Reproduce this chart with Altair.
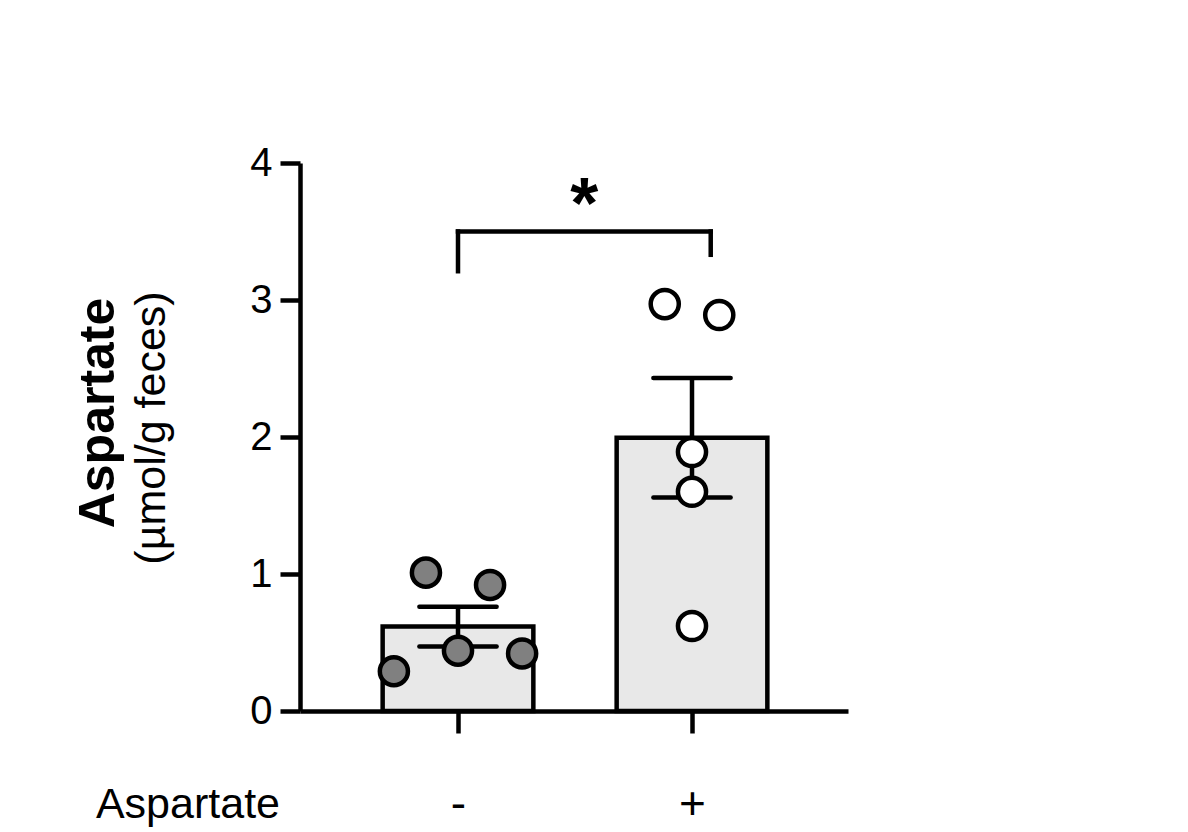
import altair as alt
import numpy as np
import pandas as pd

# Groups along the x axis
groups = ["-", "+"]

# Individual measurements (µmol/g feces) and their horizontal spread slots
minus_vals = [0.29, 1.01, 0.44, 0.92, 0.42]
minus_slot = [-2, -1, 0, 1, 2]
plus_vals = [2.97, 2.89, 1.89, 1.60, 0.62]
plus_slot = [-0.85, 0.85, 0, 0, 0]

# Significance bracket (x in group units, y in data units)
bracket_x = [0.0, 1.08]
bracket_top = 3.5
bracket_feet = [3.21, 3.33]
sig_label = "*"

y_ticks = [0, 1, 2, 3, 4]

# ---- layout / style constants ----
W, H = 548, 548
SLOT = 0.137        # spread between neighbouring dots, group units
HALF_BAR = 0.322    # bar half-width, group units
HALF_CAP = 0.165    # error-bar cap half-width
LW = 4.5
FONT = "Liberation Sans"

# ---- tables ----
pts = pd.DataFrame({
    "group": ["-"] * len(minus_vals) + ["+"] * len(plus_vals),
    "value": minus_vals + plus_vals,
    "slot": minus_slot + plus_slot,
})
pts["gi"] = pts["group"].map({g: i for i, g in enumerate(groups)})
pts["pos"] = pts["gi"] + pts["slot"] * SLOT

summ = pts.groupby("gi")["value"].agg(["mean", "std", "count"]).reset_index()
summ["sem"] = summ["std"] / np.sqrt(summ["count"])
summ["lo"] = summ["mean"] - summ["sem"]
summ["hi"] = summ["mean"] + summ["sem"]
summ["left"] = summ["gi"] - HALF_BAR
summ["right"] = summ["gi"] + HALF_BAR

caps = pd.concat([
    summ.assign(yc=summ["lo"]),
    summ.assign(yc=summ["hi"]),
])
caps["cl"] = caps["gi"] - HALF_CAP
caps["cr"] = caps["gi"] + HALF_CAP

bracket = pd.DataFrame({
    "x": [bracket_x[0], bracket_x[0], bracket_x[1]],
    "x2": [bracket_x[1], bracket_x[0], bracket_x[1]],
    "y": [bracket_top, bracket_top, bracket_top],
    "y2": [bracket_top, bracket_feet[0], bracket_feet[1]],
})
sig = pd.DataFrame({"x": [sum(bracket_x) / 2], "y": [bracket_top], "t": [sig_label]})

# ---- scales and axes ----
step = 234.0
d0 = -158.0 / step
xscale = alt.Scale(domain=[d0, d0 + W / step], nice=False, zero=False)
yscale = alt.Scale(domain=[0, 4], nice=False)

xaxis = alt.Axis(
    values=list(range(len(groups))),
    labelExpr="datum.value == 0 ? '-' : '+'",
    title=None, grid=False,
    domainColor="black", domainWidth=LW,
    tickColor="black", tickWidth=LW, tickSize=22,
    labelFont=FONT, labelFontSize=46, labelColor="black",
    labelBaseline="alphabetic", labelPadding=85,
)
yaxis = alt.Axis(
    values=y_ticks, format="d",
    title=None, grid=False,
    domainColor="black", domainWidth=LW,
    tickColor="black", tickWidth=LW, tickSize=20,
    labelFont=FONT, labelFontSize=40, labelColor="black", labelPadding=8,
)

# ---- layers ----
bars = alt.Chart(summ).mark_bar(
    fill="#e8e8e8", stroke="black", strokeWidth=LW
).encode(
    x=alt.X("left:Q", scale=xscale, axis=xaxis),
    x2="right:Q",
    y=alt.Y("mean:Q", scale=yscale, axis=yaxis),
    y2=alt.datum(0),
)

err = alt.Chart(summ).mark_rule(color="black", strokeWidth=LW).encode(
    x=alt.X("gi:Q", scale=xscale), y=alt.Y("lo:Q", scale=yscale), y2="hi:Q"
)

cap = alt.Chart(caps).mark_rule(color="black", strokeWidth=LW, strokeCap="round").encode(
    x=alt.X("cl:Q", scale=xscale), x2="cr:Q", y=alt.Y("yc:Q", scale=yscale)
)

dots = alt.Chart(pts).mark_circle(
    size=790, stroke="black", strokeWidth=LW, opacity=1
).encode(
    x=alt.X("pos:Q", scale=xscale),
    y=alt.Y("value:Q", scale=yscale),
    fill=alt.Fill("group:N", scale=alt.Scale(domain=groups, range=["#808080", "#ffffff"]), legend=None),
)

brk = alt.Chart(bracket).mark_rule(color="black", strokeWidth=LW, strokeCap="square").encode(
    x=alt.X("x:Q", scale=xscale), x2="x2:Q",
    y=alt.Y("y:Q", scale=yscale), y2="y2:Q",
)

star = alt.Chart(sig).mark_text(
    font=FONT, fontWeight="bold", fontSize=72, color="black",
    align="center", baseline="alphabetic", dy=-4,
).encode(
    x=alt.X("x:Q", scale=xscale), y=alt.Y("y:Q", scale=yscale), text="t:N"
)

one = pd.DataFrame({"k": [0]})

ytitle_bold = alt.Chart(one).mark_text(
    text="Aspartate", font=FONT, fontWeight="bold", fontSize=50, color="black",
    angle=270, align="center", baseline="alphabetic",
).encode(x=alt.value(-186), y=alt.value(250))

ytitle_unit = alt.Chart(one).mark_text(
    text="(µmol/g feces)", font=FONT, fontSize=43, color="black",
    angle=270, align="center", baseline="alphabetic",
).encode(x=alt.value(-135), y=alt.value(265))

row_label = alt.Chart(one).mark_text(
    text="Aspartate", font=FONT, fontSize=43, color="black",
    align="right", baseline="alphabetic",
).encode(x=alt.value(-20), y=alt.value(H + 107))

chart = alt.layer(
    bars, err, cap, dots, brk, star, ytitle_bold, ytitle_unit, row_label
).properties(
    width=W, height=H,
    autosize=alt.AutoSizeParams(type="none"),
    padding={"left": 300, "top": 163, "right": 340, "bottom": 121},
    background="white",
).configure_view(stroke=None)

chart.save("out.html", embed_options={"renderer": "svg", "actions": False})
